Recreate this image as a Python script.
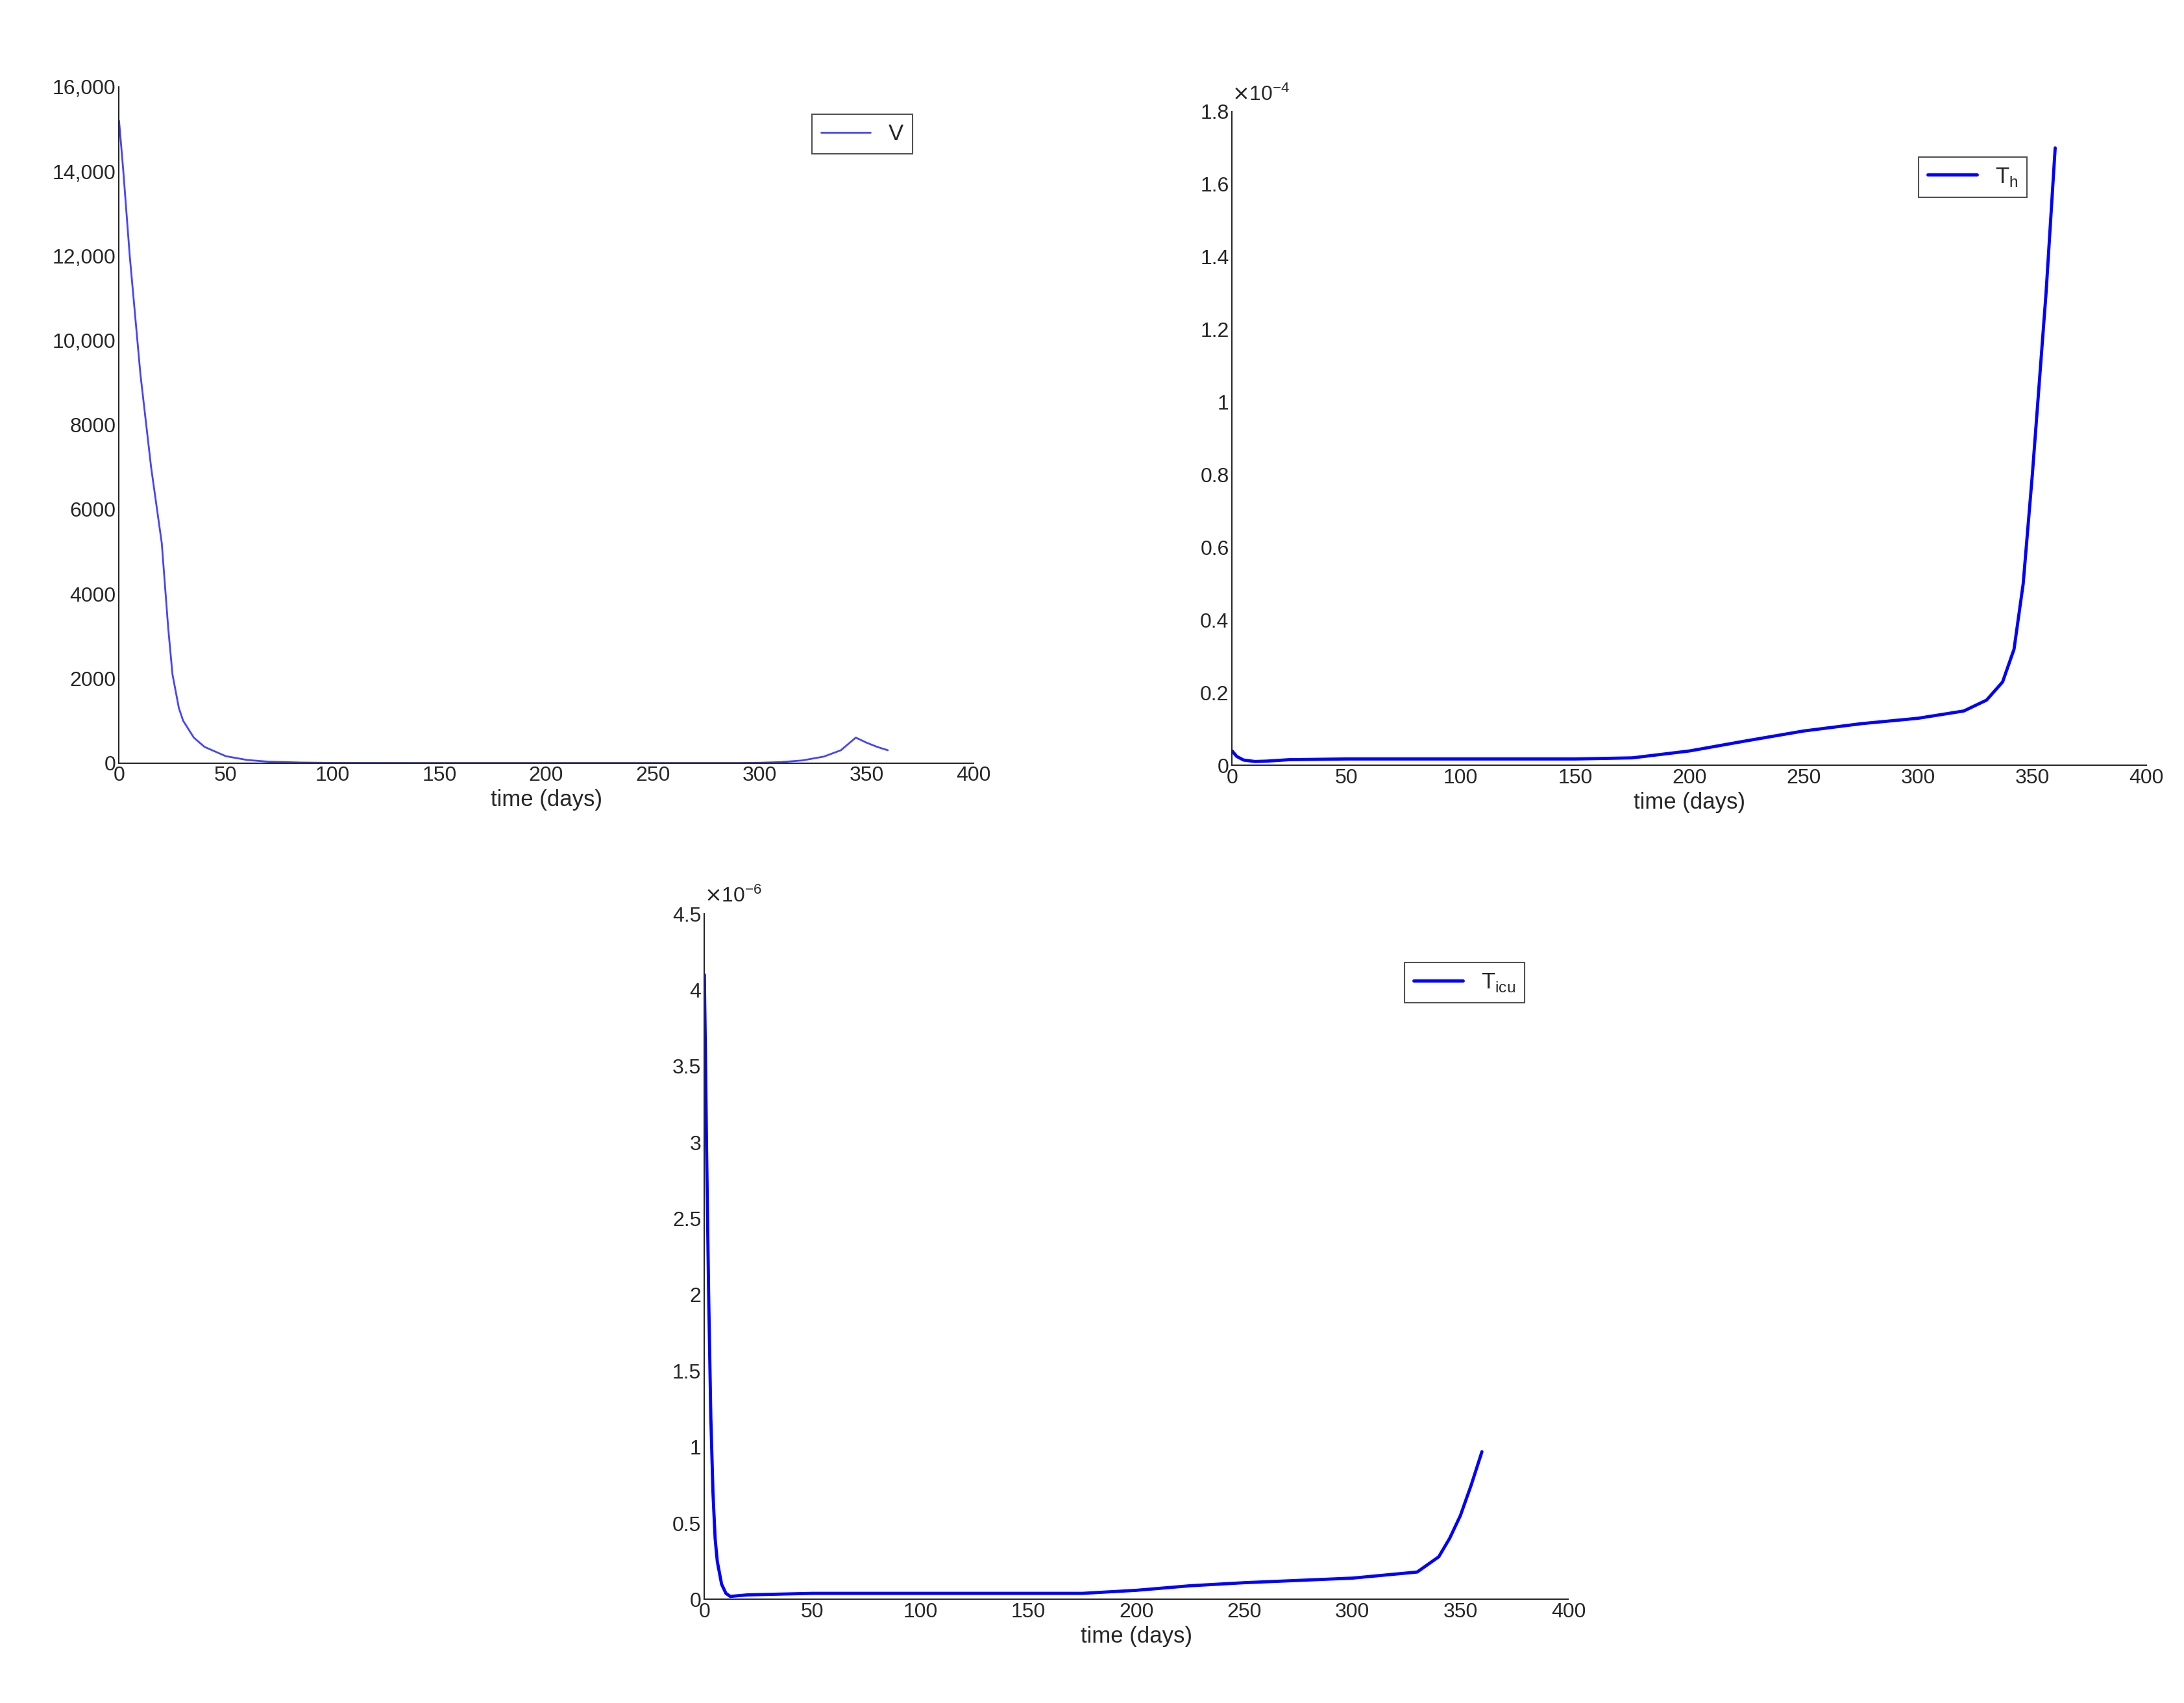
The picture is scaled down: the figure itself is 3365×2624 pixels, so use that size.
import numpy as np, pandas as pd, matplotlib
matplotlib.use("Agg")
import matplotlib.pyplot as plt, seaborn as sns

sns.set_style("white")
plt.rcParams['font.family'] = ['Liberation Sans', 'DejaVu Sans']

t_v = [0, 2, 5, 10, 15, 20, 23, 25, 28, 30, 35, 40, 50, 60, 70, 85, 100, 150, 200, 250, 290, 300, 310, 320, 330, 338, 345, 350, 355, 360]
v = [15200, 14000, 12000, 9200, 7000, 5200, 3200, 2100, 1300, 1000, 600, 380, 160, 70, 30, 10, 2, 0, 0, 0, 0, 5, 20, 60, 150, 300, 600, 480, 380, 300]

t_th = [0, 2, 5, 10, 15, 25, 50, 100, 150, 175, 200, 225, 250, 275, 300, 320, 330, 337, 342, 346, 350, 353, 356, 358, 360]
th = [0.04, 0.025, 0.015, 0.011, 0.012, 0.016, 0.018, 0.018, 0.018, 0.021, 0.04, 0.068, 0.095, 0.115, 0.13, 0.15, 0.18, 0.23, 0.32, 0.5, 0.8, 1.05, 1.3, 1.5, 1.7]

t_ticu = [0, 0.5, 1, 2, 3, 4, 5, 6, 8, 10, 12, 20, 50, 100, 175, 200, 225, 250, 300, 330, 340, 345, 350, 355, 360]
ticu = [4.1, 3.6, 3.0, 2.0, 1.2, 0.7, 0.4, 0.25, 0.1, 0.04, 0.02, 0.03, 0.04, 0.04, 0.04, 0.06, 0.09, 0.11, 0.14, 0.18, 0.28, 0.4, 0.55, 0.75, 0.97]

fig = plt.figure(figsize=(33.66, 26.24), dpi=100)
fs = 23

def style(ax, xl):
    sns.despine(ax=ax)
    for s in ax.spines.values():
        s.set_linewidth(1.5); s.set_color('#262626')
    ax.tick_params(direction='in', length=10, width=1.5, labelsize=fs, colors='#262626')
    ax.set_xlim(0, 400); ax.set_xticks(range(0, 401, 50))
    ax.set_xlabel(xl, fontsize=fs + 2)
    ax.set_ylabel('')

ax1 = fig.add_axes([0.0545, 0.552, 0.391, 0.397])
sns.lineplot(x=t_v, y=v, ax=ax1, color='#4444ff', lw=2, label='V')
style(ax1, 'time (days)')
ax1.set_ylim(0, 16000)
ticks = list(range(0, 16001, 2000))
ax1.set_yticks(ticks)
ax1.set_yticklabels([f"{x:,}" if x >= 10000 else str(x) for x in ticks])

ax2 = fig.add_axes([0.564, 0.5505, 0.4186, 0.384])
sns.lineplot(x=t_th, y=th, ax=ax2, color='#0000ff', lw=3.5, label='T$_\\mathregular{h}$')
style(ax2, 'time (days)')
ax2.set_ylim(0, 1.8)
yt = np.round(np.arange(0, 1.81, 0.2), 1)
ax2.set_yticks(yt); ax2.set_yticklabels([f"{x:g}" for x in yt])
ax2.text(0, 1.01, r'$\times\mathregular{10^{-4}}$', transform=ax2.transAxes, fontsize=fs, color='#262626', va='bottom')

ax3 = fig.add_axes([0.3224, 0.0608, 0.3955, 0.4026])
sns.lineplot(x=t_ticu, y=ticu, ax=ax3, color='#0000ff', lw=3.5, label='T$_\\mathregular{icu}$')
style(ax3, 'time (days)')
ax3.set_ylim(0, 4.5)
yt = np.arange(0, 4.51, 0.5)
ax3.set_yticks(yt); ax3.set_yticklabels([f"{x:g}" for x in yt])
ax3.text(0, 1.01, r'$\times\mathregular{10^{-6}}$', transform=ax3.transAxes, fontsize=fs, color='#262626', va='bottom')

for ax, loc in [(ax1, (0.87, 0.93)), (ax2, (0.81, 0.90)), (ax3, (0.88, 0.90))]:
    leg = ax.legend(loc='center', bbox_to_anchor=loc, fontsize=fs + 2, fancybox=False,
                    edgecolor='#262626', handlelength=2.2, borderpad=0.4)
    leg.get_frame().set_linewidth(1.5)

fig.savefig('out.png', dpi=100)
